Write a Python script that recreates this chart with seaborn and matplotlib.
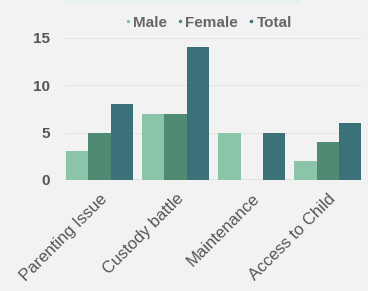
import matplotlib
matplotlib.use("Agg")
import matplotlib.pyplot as plt
import seaborn as sns
import pandas as pd
from matplotlib.patches import Rectangle

categories = ["Parenting Issue", "Custody battle", "Maintenance", "Access to Child"]
male = [3, 7, 5, 2]
female = [5, 7, 0, 4]
total = [8, 14, 5, 6]
series = ["Male", "Female", "Total"]
colors = ["#8cc4aa", "#4f8a72", "#3b727a"]
yticks = [0, 5, 10, 15]

rows = []
for name, vals in zip(series, [male, female, total]):
    for c, v in zip(categories, vals):
        rows.append({"category": c, "series": name, "value": v})
df = pd.DataFrame(rows)

sns.set_theme(style="white")
plt.rcParams['font.family'] = ['Liberation Sans', 'DejaVu Sans']

fig = plt.figure(figsize=(3.68, 2.91), dpi=100, facecolor="#f2f2f2")
ax = fig.add_axes([0.177, 0.382, 0.807, 0.488])
ax.set_facecolor("#f2f2f2")

sns.barplot(data=df, x="category", y="value", hue="series", palette=colors,
            width=0.88, ax=ax, legend=False, saturation=1, linewidth=0)

ax.set_xlim(-0.45, 3.45)
ax.set_ylim(0, 15)
ax.set_yticks(yticks)
ax.set_yticklabels([str(t) for t in yticks], fontsize=11, fontweight="bold", color="#555555")
ax.set_xlabel("")
ax.set_ylabel("")
ax.grid(axis="y", color="#e4e4e4", linewidth=0.8)
ax.set_axisbelow(True)
for s in ax.spines.values():
    s.set_visible(False)
ax.axhline(0, color="#dcdcdc", linewidth=1.2, zorder=0)
ax.tick_params(axis="y", length=0, pad=11)
ax.tick_params(axis="x", length=0, pad=8)
plt.setp(ax.get_xticklabels(), rotation=45, ha="right", rotation_mode="anchor",
         fontsize=12, fontweight="medium", color="#555555")

# legend
handles = [plt.Line2D([], [], marker="o", linestyle="", markersize=1.5, color=c) for c in colors]
leg = fig.legend(handles, series, loc="center", bbox_to_anchor=(0.565, 0.922), ncol=3,
                 frameon=False, handletextpad=0.1, columnspacing=0.6, handlelength=0.5,
                 prop={"size": 11, "weight": "bold"})
for t in leg.get_texts():
    t.set_color("#666666")

# faint top band
fig.patches.append(Rectangle((0.177, 0.99), 0.64, 0.012, transform=fig.transFigure,
                             facecolor="#e3f3ec", edgecolor="none"))

fig.savefig("out.png", dpi=100, facecolor=fig.get_facecolor())
